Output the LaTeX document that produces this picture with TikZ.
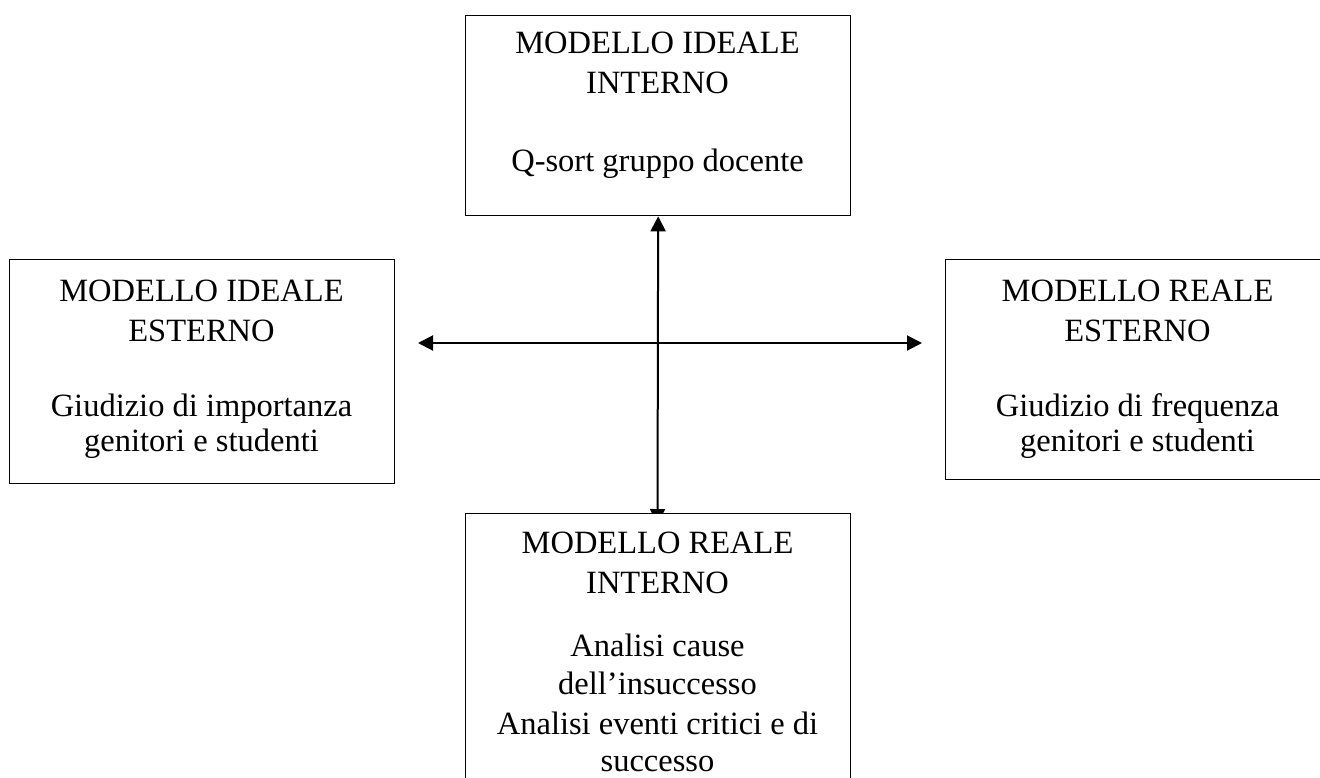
\documentclass[tikz,border=0pt]{standalone}
\usepackage{fontspec}
\setmainfont{Liberation Serif}
\usetikzlibrary{arrows.meta}
\begin{document}
\begin{tikzpicture}[x=1pt,y=-1pt,
  box/.style={draw=black,line width=1.3pt,fill=white,anchor=north west,inner sep=0pt},
  line/.style={anchor=base,inner sep=0pt,font=\fontsize{32.5}{38}\selectfont},
  link/.style={line width=2pt,{Triangle[length=15pt,width=15pt]}-{Triangle[length=15pt,width=15pt]}}]
\useasboundingbox (0,0) rectangle (1320,777);
\clip (0,0) rectangle (1320,777);

% upper box: ideal internal model
\node[box,minimum width=385pt,minimum height=200pt] (top) at (465,15) {};
\node[line] (t1) at (657.5,53) {MODELLO IDEALE};
\node[line] (t2) at (657.5,93) {INTERNO};
\node[line] (t3) at (657.5,171) {Q-sort gruppo docente};

% left box: ideal external model
\node[box,minimum width=385pt,minimum height=224pt] (left) at (9,259) {};
\node[line] (l1) at (201.5,301) {MODELLO IDEALE};
\node[line] (l2) at (201.5,341) {ESTERNO};
\node[line] (l3) at (201.5,416) {Giudizio di importanza};
\node[line] (l4) at (201.5,451) {genitori e studenti};

% right box: real external model
\node[box,minimum width=385pt,minimum height=220pt] (right) at (945,259) {};
\node[line] (r1) at (1137.5,301) {MODELLO REALE};
\node[line] (r2) at (1137.5,341) {ESTERNO};
\node[line] (r3) at (1137.5,416) {Giudizio di frequenza};
\node[line] (r4) at (1137.5,451) {genitori e studenti};

% axes
\coordinate (hl) at (418,343);
\coordinate (hr) at (922,343);
\coordinate (vb) at (657.5,524);
\draw[link] (hl) -- (hr);
\draw[link] (vb) -- (top.south);

% lower box: real internal model (drawn over the axis end)
\node[box,minimum width=385pt,minimum height=300pt] (bottom) at (465,513) {};
\node[line] (b1) at (657.5,553) {MODELLO REALE};
\node[line] (b2) at (657.5,593) {INTERNO};
\node[line] (b3) at (657.5,656) {Analisi cause};
\node[line] (b4) at (657.5,694) {dell’insuccesso};
\node[line] (b5) at (657.5,734) {Analisi eventi critici e di};
\node[line] (b6) at (657.5,771) {successo};
\end{tikzpicture}
\end{document}
